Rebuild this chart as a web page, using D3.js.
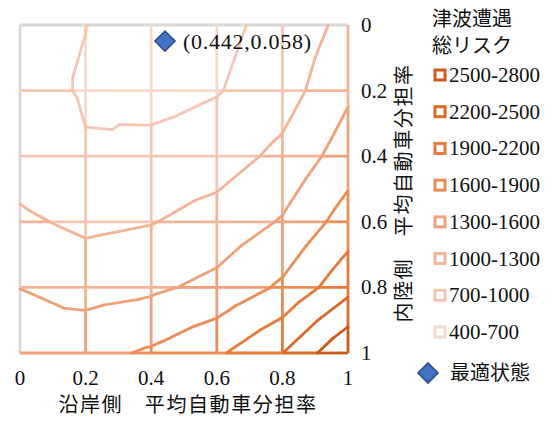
<!DOCTYPE html>
<html>
<head>
<meta charset="utf-8">
<script src="https://cdn.jsdelivr.net/npm/d3@7"></script>
<style>
  body { margin: 0; background: #fff; }
  svg { display: block; }
</style>
</head>
<body>
<svg id="chart" width="554" height="421"></svg>
<script>
// Coastal-side car share (columns) and inland-side car share (rows)
const coastShares = [0, 0.2, 0.4, 0.6, 0.8, 1];
const inlandShares = [0, 0.2, 0.4, 0.6, 0.8, 1];

// Total tsunami-encounter risk, one row per inland-side share
const riskInland00 = [760, 703, 550, 618, 800, 1086];
const riskInland02 = [780, 680, 589, 682, 865, 1250];
const riskInland04 = [864, 716, 800, 862, 1073, 1450];
const riskInland06 = [1051, 937, 987, 1113, 1325, 1736];
const riskInland08 = [1295, 1188, 1247, 1380, 1649, 2100];
const riskInland10 = [1462, 1507, 1640, 1850, 2195, 2767];
const riskGrid = [riskInland00, riskInland02, riskInland04, riskInland06, riskInland08, riskInland10];

// Risk bands, low to high
const bandBreaks = [400, 700, 1000, 1300, 1600, 1900, 2200, 2500, 2800];
const bandLabels = ["400-700", "700-1000", "1000-1300", "1300-1600", "1600-1900", "1900-2200", "2200-2500", "2500-2800"];

// Axis ticks
const tickValues = [0, 0.2, 0.4, 0.6, 0.8, 1];
const tickLabels = ["0", "0.2", "0.4", "0.6", "0.8", "1"];

// Optimal state
const optimumCoast = 0.442;
const optimumInland = 0.058;
const optimumLabel = "(0.442,0.058)";

// ---- styling ----
const bandColors = ["#F7D8CC", "#F5C6B2", "#F3B497", "#F1A17A", "#EE8C55", "#E87A3A", "#DE6A2A", "#D0581A"];
const edgeGray = "#DDD7D5";
const serif = "'Liberation Serif', 'Times New Roman', serif";
const cjk = "'Noto Sans CJK JP', 'Noto Sans', sans-serif";
const lineW = 2.8;

const svg = d3.select("#chart");
const x = d3.scaleLinear().domain([0, 1]).range([20, 348]);
const y = d3.scaleLinear().domain([0, 1]).range([25, 353]);
const bandOf = d3.scaleThreshold().domain(bandBreaks.slice(1, -1)).range(bandColors);
const contourLevels = bandBreaks.slice(1, -1);

const plot = svg.append("g");

// outer top / left edges
plot.append("line").attr("x1", x(0)).attr("x2", x(1)).attr("y1", y(0)).attr("y2", y(0))
  .attr("stroke", edgeGray).attr("stroke-width", lineW);
plot.append("line").attr("x1", x(0)).attr("x2", x(0)).attr("y1", y(0)).attr("y2", y(1))
  .attr("stroke", edgeGray).attr("stroke-width", lineW);

// split a grid edge at every contour level and colour each piece by its band
function drawEdge(p0, p1) {
  const [xa, ya, za] = p0, [xb, yb, zb] = p1;
  const ts = [0];
  contourLevels.forEach(L => {
    if ((za - L) * (zb - L) < 0) ts.push((L - za) / (zb - za));
  });
  ts.push(1);
  ts.sort((a, b) => a - b);
  for (let k = 0; k < ts.length - 1; k++) {
    const t0 = ts[k], t1 = ts[k + 1];
    const zm = za + (zb - za) * (t0 + t1) / 2;
    plot.append("line")
      .attr("x1", x(xa + (xb - xa) * t0)).attr("y1", y(ya + (yb - ya) * t0))
      .attr("x2", x(xa + (xb - xa) * t1)).attr("y2", y(ya + (yb - ya) * t1))
      .attr("stroke", bandOf(zm)).attr("stroke-width", lineW)
      .attr("stroke-linecap", "butt");
  }
}

// horizontal wires (rows below the top edge)
for (let r = 1; r < inlandShares.length; r++) {
  for (let c = 0; c < coastShares.length - 1; c++) {
    drawEdge([coastShares[c], inlandShares[r], riskGrid[r][c]],
             [coastShares[c + 1], inlandShares[r], riskGrid[r][c + 1]]);
  }
}
// vertical wires (columns right of the left edge)
for (let c = 1; c < coastShares.length; c++) {
  for (let r = 0; r < inlandShares.length - 1; r++) {
    drawEdge([coastShares[c], inlandShares[r], riskGrid[r][c]],
             [coastShares[c], inlandShares[r + 1], riskGrid[r + 1][c]]);
  }
}

// contour lines: each cell is split into four triangles around its centre
const segs = [];
for (let r = 0; r < inlandShares.length - 1; r++) {
  for (let c = 0; c < coastShares.length - 1; c++) {
    const p00 = [coastShares[c], inlandShares[r], riskGrid[r][c]];
    const p10 = [coastShares[c + 1], inlandShares[r], riskGrid[r][c + 1]];
    const p11 = [coastShares[c + 1], inlandShares[r + 1], riskGrid[r + 1][c + 1]];
    const p01 = [coastShares[c], inlandShares[r + 1], riskGrid[r + 1][c]];
    const pc = [(p00[0] + p11[0]) / 2, (p00[1] + p11[1]) / 2,
                (p00[2] + p10[2] + p11[2] + p01[2]) / 4];
    const tris = [[pc, p00, p10], [pc, p10, p11], [pc, p11, p01], [pc, p01, p00]];
    tris.forEach(tri => {
      contourLevels.forEach(L => {
        const pts = [];
        for (let e = 0; e < 3; e++) {
          const a = tri[e], b = tri[(e + 1) % 3];
          if ((a[2] - L) * (b[2] - L) < 0) {
            const t = (L - a[2]) / (b[2] - a[2]);
            pts.push([a[0] + (b[0] - a[0]) * t, a[1] + (b[1] - a[1]) * t]);
          }
        }
        if (pts.length === 2) segs.push({ L, pts });
      });
    });
  }
}
segs.sort((a, b) => a.L - b.L);
plot.append("g").selectAll("line").data(segs).join("line")
  .attr("x1", d => x(d.pts[0][0])).attr("y1", d => y(d.pts[0][1]))
  .attr("x2", d => x(d.pts[1][0])).attr("y2", d => y(d.pts[1][1]))
  .attr("stroke", d => bandOf(d.L + 1))
  .attr("stroke-width", lineW)
  .attr("stroke-linecap", "round");

// optimum marker
const diamond = d3.symbol().type(d3.symbolSquare).size(200);
svg.append("path").attr("d", diamond())
  .attr("transform", `translate(${x(optimumCoast)},${y(optimumInland) - 3}) rotate(45)`)
  .attr("fill", "#4472C4").attr("stroke", "#2F4F8A").attr("stroke-width", 1.6);
svg.append("text")
  .attr("x", x(optimumCoast) + 18).attr("y", y(optimumInland) + 5)
  .attr("font-family", serif).attr("font-size", 22)
  .attr("textLength", 128).attr("lengthAdjust", "spacing")
  .attr("fill", "#111").text(optimumLabel);

// x tick labels
svg.append("g").selectAll("text").data(tickValues).join("text")
  .attr("x", d => x(d)).attr("y", 385)
  .attr("text-anchor", "middle")
  .attr("font-family", serif).attr("font-size", 21).attr("fill", "#111")
  .text((d, i) => tickLabels[i]);

// y tick labels (right side)
svg.append("g").selectAll("text").data(tickValues).join("text")
  .attr("x", 361).attr("y", d => y(d) + 7)
  .attr("font-family", serif).attr("font-size", 21).attr("fill", "#111")
  .text((d, i) => tickLabels[i]);

// axis titles
svg.append("text")
  .attr("x", 188).attr("y", 412)
  .attr("text-anchor", "middle")
  .attr("font-family", cjk).attr("font-size", 20).attr("letter-spacing", 1.6)
  .attr("fill", "#111")
  .text("沿岸側　平均自動車分担率");
svg.append("text")
  .attr("transform", "translate(411,193) rotate(-90)")
  .attr("text-anchor", "middle")
  .attr("font-family", cjk).attr("font-size", 20).attr("letter-spacing", 1.6)
  .attr("fill", "#111")
  .text("内陸側　平均自動車分担率");

// legend
const legend = svg.append("g");
legend.append("text").attr("x", 432).attr("y", 26)
  .attr("font-family", cjk).attr("font-size", 20).attr("fill", "#111").text("津波遭遇");
legend.append("text").attr("x", 432).attr("y", 53)
  .attr("font-family", cjk).attr("font-size", 20).attr("fill", "#111").text("総リスク");

const legendOrder = d3.range(bandLabels.length).reverse();
const ly = d3.scaleLinear().domain([0, legendOrder.length - 1]).range([75, 332]);
const items = legend.selectAll("g.item").data(legendOrder).join("g")
  .attr("class", "item")
  .attr("transform", (d, i) => `translate(0,${ly(i)})`);
items.append("rect")
  .attr("x", 435).attr("y", -5).attr("width", 10).attr("height", 10)
  .attr("fill", "#fff").attr("stroke", d => bandColors[d]).attr("stroke-width", 3);
items.append("text")
  .attr("x", 449).attr("y", 7)
  .attr("font-family", serif).attr("font-size", 21).attr("fill", "#111")
  .text(d => bandLabels[d]);

legend.append("path").attr("d", diamond())
  .attr("transform", "translate(428,373) rotate(45)")
  .attr("fill", "#4472C4").attr("stroke", "#2F4F8A").attr("stroke-width", 1.6);
legend.append("text").attr("x", 450).attr("y", 380)
  .attr("font-family", cjk).attr("font-size", 20).attr("fill", "#111").text("最適状態");
</script>
</body>
</html>
